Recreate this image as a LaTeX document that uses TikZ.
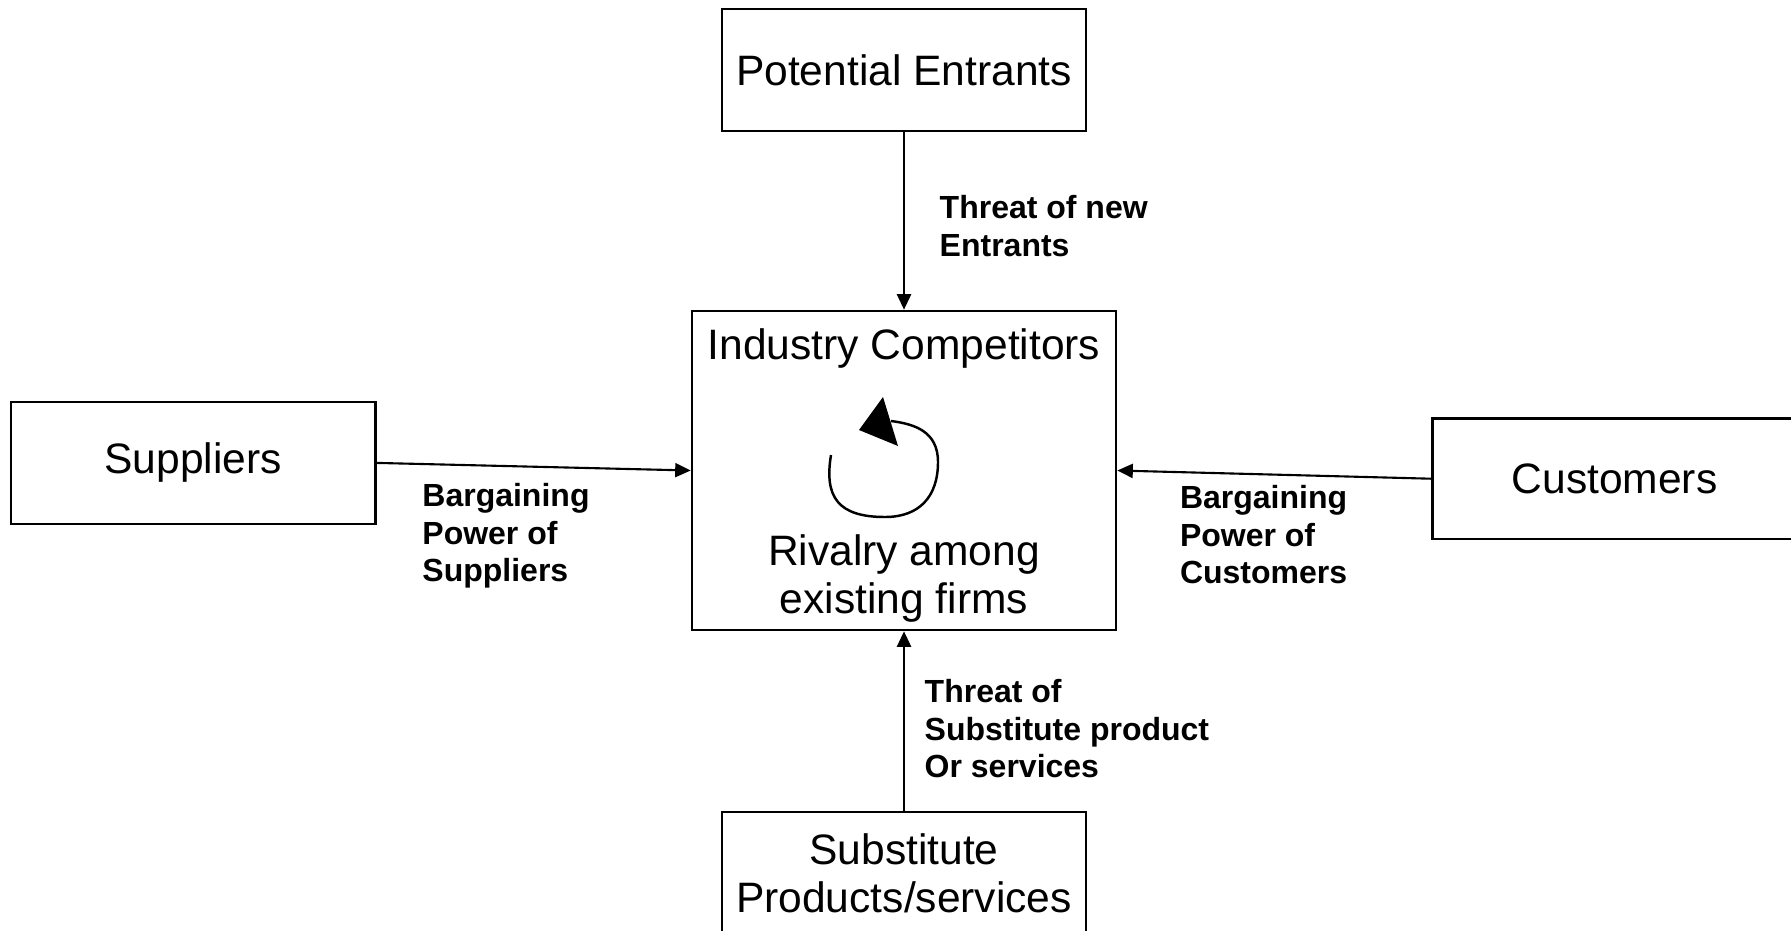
\documentclass[tikz,border=0pt]{standalone}
\usepackage{fontspec}
\setmainfont{Liberation Sans}
\usetikzlibrary{arrows.meta}
\newcommand\mainfnt{\fontsize{12.1pt}{13.7pt}\selectfont}
\newcommand\lblfnt{\fontsize{9.1pt}{10.7pt}\selectfont\bfseries}
\tikzset{
  box/.style={draw, line width=0.7pt, minimum width=3.64cm, minimum height=1.22cm, inner sep=0pt, align=center, font=\mainfnt},
  txt/.style={inner sep=0pt, align=center, font=\mainfnt},
  lbl/.style={inner sep=0pt, anchor=north west, align=left, font=\lblfnt},
  conn/.style={line width=0.6pt, -{Triangle[length=4.4pt,width=4pt]}},
}
\begin{document}
\begin{tikzpicture}[x=0.01cm,y=-0.01cm]
\clip (0,0) rectangle (1791,930);
\fill[white] (0,0) rectangle (1791,930);
% boxes
\node[box] (pe) at (904,70) {Potential Entrants};
\node[box, minimum width=4.24cm, minimum height=3.19cm] (comp) at (904,470.5) {};
\node[box] (sup) at (193.2,462.9) {Suppliers};
\node[box, minimum height=1.207cm] (cust) at (1614.5,478.7) {Customers};
\node[box] (sub) at (904,873) {Substitute\\Products/services};
% texts inside the central box
\node[txt, anchor=base] (ic) at (904,359.3) {Industry Competitors};
\node[txt, anchor=north] (riv) at (904,534) {Rivalry among\\existing firms};
% rivalry loop
\draw[line width=0.7pt] (831,455) .. controls (824,497) and (838,517) .. (885,517)
  .. controls (919,517) and (938,497) .. (938,462)
  .. controls (938,431) and (914,424) .. (891,421);
\fill (883,397) -- (859,430) -- (898,446) -- cycle;
% connectors
\draw[conn] (pe.south) -- (comp.north);
\draw[conn] (sub.north) -- (comp.south);
\draw[conn] (sup.east) -- (comp.west);
\draw[conn] (cust.west) -- (comp.east);
% labels
\node[lbl] (l1) at (939,195) {Threat of new\\Entrants};
\node[lbl] (l2) at (421.7,482.5) {Bargaining\\Power of\\Suppliers};
\node[lbl] (l3) at (1179.3,484.5) {Bargaining\\Power of\\Customers};
\node[lbl] (l4) at (924,678.7) {Threat of\\Substitute product\\Or services};
\end{tikzpicture}
\end{document}
